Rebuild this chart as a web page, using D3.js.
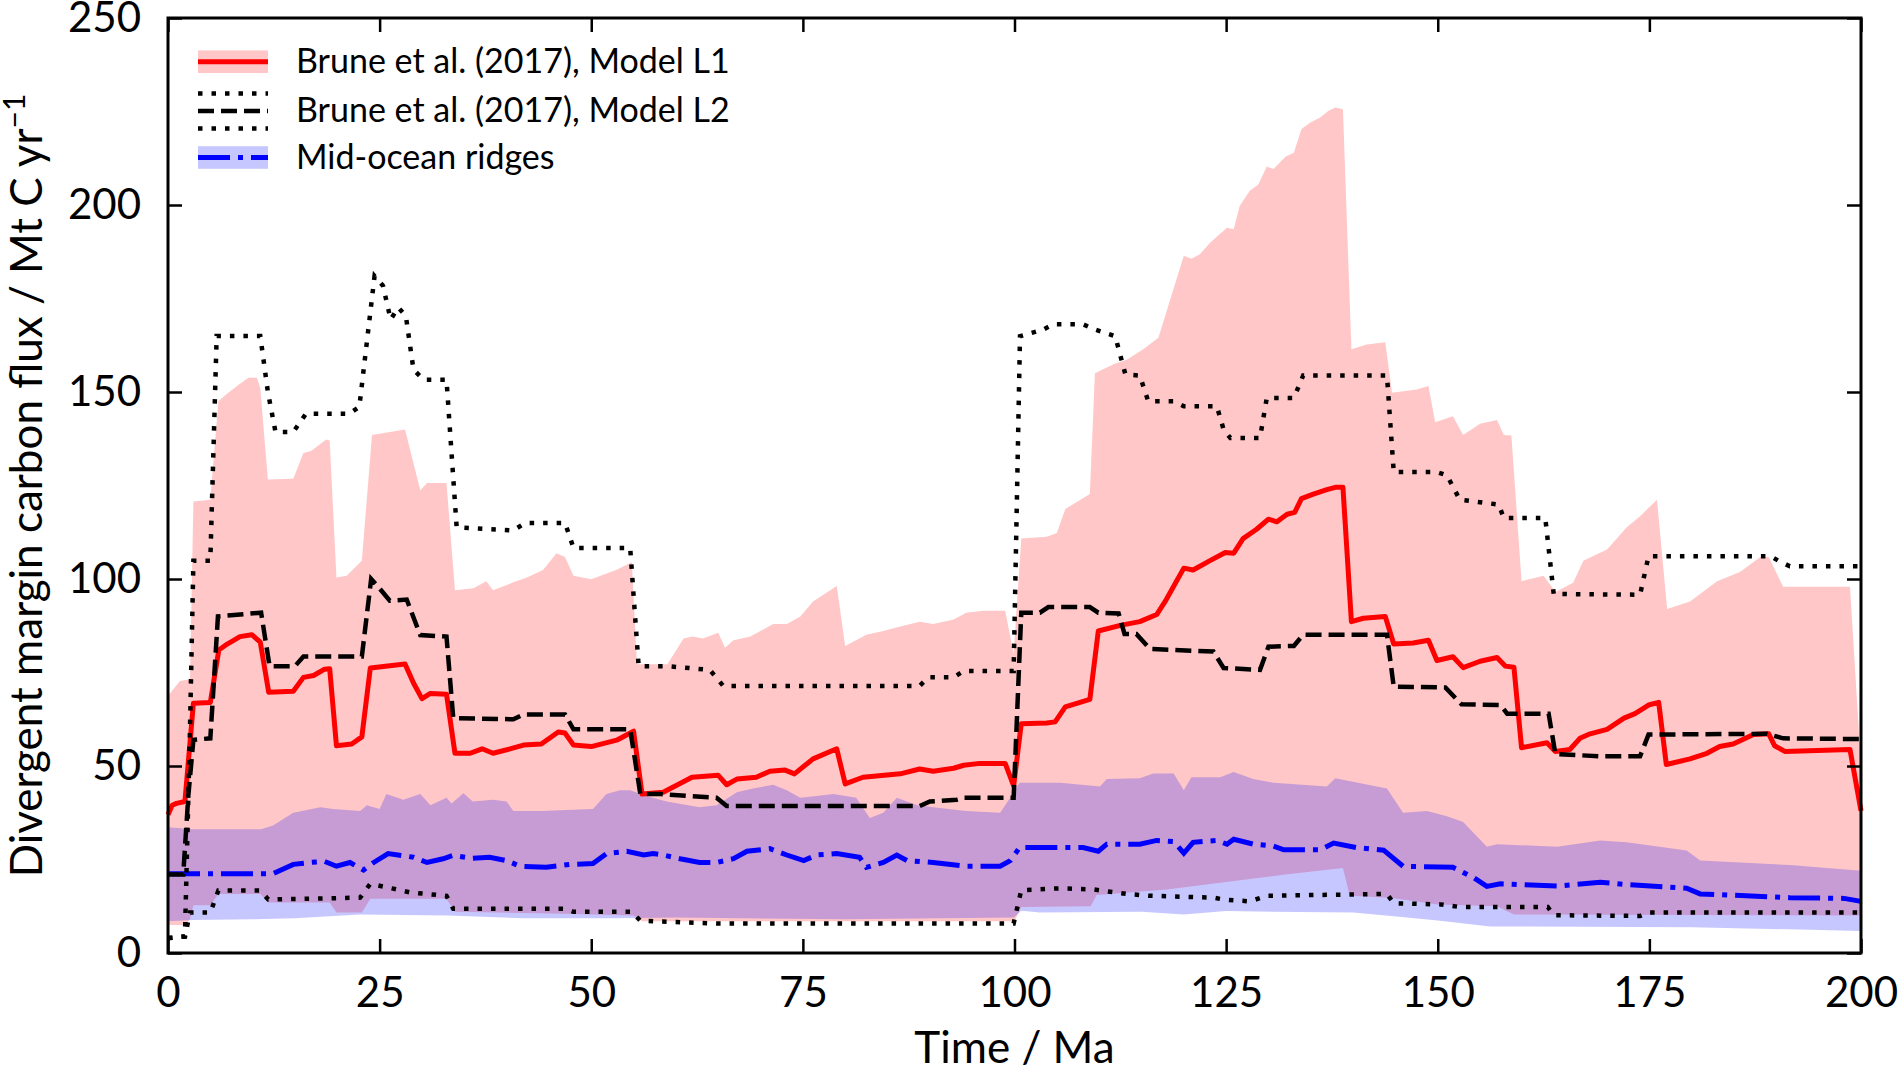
<!DOCTYPE html>
<html>
<head>
<meta charset="utf-8">
<script src="https://cdn.jsdelivr.net/npm/d3@7"></script>
<style>
  body { margin: 0; background: #fff; }
  text { font-family: Lato, "Open Sans", sans-serif; fill: #000; }
</style>
</head>
<body>
<script>
// [time in Ma, flux in Mt C / yr]
let l1Median = [[0,37],[0.5,39.5],[1,40],[2,40.5],[3,66.8],[5,67],[6,81],[7,82.6],[8.5,84.6],[9.9,85.1],[10.9,83.1],[11.9,69.7],[14.8,70],[16,73.7],[17.2,74.2],[18.5,75.9],[19.1,76],[19.9,55.4],[21.7,55.9],[22.9,57.8],[23.9,76.2],[28,77.3],[29,72.2],[30,68],[31,69.4],[32.9,69.2],[33.9,53.4],[35.7,53.4],[37.1,54.6],[38.4,53.4],[40.4,54.6],[42,55.6],[44.1,55.9],[46.1,59.1],[46.9,58.8],[47.9,55.6],[50,55.2],[53,56.9],[55,59.3],[56,42.5],[58.5,43],[61.9,47],[65,47.5],[66,45],[67.2,46.5],[69.5,47],[71.1,48.6],[72.9,48.9],[74,47.9],[76.2,51.9],[79,54.6],[80,45.2],[82.1,47],[86.5,47.9],[88.8,49.2],[90.4,48.6],[92.8,49.4],[94,50.2],[95.9,50.7],[98.9,50.7],[99.9,44.7],[100.8,61.3],[103.8,61.5],[104.8,61.8],[106,65.8],[108.9,67.8],[109.9,86.1],[112.5,87.6],[114.8,88.6],[116.8,90.5],[117.8,94],[120,102.9],[121.1,102.4],[123.1,104.9],[124.9,107.1],[125.9,106.9],[127,110.8],[128.6,113.3],[130,116],[131,115.3],[132.2,117.3],[133.1,117.8],[133.9,121.5],[135.3,122.7],[136.9,123.9],[137.9,124.5],[138.8,124.5],[139.8,88.6],[141.2,89.5],[143.8,90],[144.8,82.6],[147.1,82.9],[148.9,83.6],[149.9,78.2],[151.8,79.2],[153,76.3],[155,78],[157,79],[158,76.7],[159,76.4],[159.9,54.9],[162.9,56.2],[163.9,53.9],[165.6,54.4],[166.8,57.4],[168,58.6],[170,59.8],[172,62.8],[173.3,64],[174.9,66.3],[176.1,67],[177,50.4],[179.8,51.9],[181.8,53.4],[183.3,55.2],[184.9,55.9],[187.3,58.4],[189.1,58.6],[189.8,55.4],[191,53.9],[198.7,54.4],[200,38]];

let l1Upper = [[0,68.7],[1.4,72.7],[2.6,73.2],[3,120.7],[5,121.2],[5.95,147.5],[6.9,149.4],[8.3,151.9],[9.5,153.8],[10.5,153.8],[10.9,151.1],[11.8,126.6],[14.8,126.8],[16,133.7],[16.9,134.2],[18.7,137.3],[19.1,137],[19.9,100.4],[21.1,100.9],[22.9,104.9],[24.1,138.5],[28,140],[29.8,123.7],[30.6,125.7],[32.9,125.7],[33.9,97],[36.1,97.5],[37.6,99.4],[38.4,97],[40.8,99.1],[42.4,100.4],[44.3,102.4],[45.9,106.9],[46.9,105.9],[47.9,100.9],[50,99.9],[53,102.5],[54.8,104.5],[55.4,77.2],[59,77.2],[60.9,84.1],[62,84.6],[63.2,84.1],[65,85.6],[65.8,81.6],[66.8,83.6],[68.8,84.6],[71.5,88],[73.1,88],[74.7,90],[76.2,94],[79,98.1],[80,82.1],[82.5,85.1],[84.5,86.1],[86.5,87.3],[88.8,88.6],[90.4,88],[92.8,89.2],[94.3,91],[96.3,91.5],[98.9,91.5],[99.9,80],[100.8,110.8],[103.8,111.3],[105,112.3],[106,118.7],[108.9,122.7],[109.5,155],[111.7,157.4],[113.3,158.7],[115.2,161.4],[117,164.5],[120,186.4],[120.9,185.6],[121.9,186.8],[123.1,189.9],[125.1,193.9],[125.9,193.5],[126.6,199.7],[127.8,203.8],[128.8,205.5],[129.8,210.3],[130.6,209.6],[132,212.9],[133,214],[133.9,220.3],[134.9,222],[136.1,223.4],[137.1,225.2],[137.9,226.1],[138.8,225.6],[139.8,161.4],[141.6,162.7],[143.8,163.3],[144.6,149.8],[147.5,150.7],[148.9,151.6],[149.7,141.9],[151.8,143.5],[153,138.5],[155,141.5],[157,142.5],[157.8,138.5],[158.7,138.4],[159.9,99.4],[162.5,100.9],[163.9,96.5],[166,99],[167.2,104.9],[170,107.9],[172.3,113.8],[173.9,116.8],[175.9,121.2],[177.1,92],[179.8,94],[183,99.4],[185.7,101.9],[188.1,105.9],[189.1,105.9],[190.8,97.9],[198.7,97.9],[200,50]];

let l1Lower = [[0,7.5],[2,7.5],[2.6,9],[3,12.8],[5,12.8],[5.95,15.8],[10.9,15.8],[11.85,13.5],[19.1,13.5],[19.9,10.8],[22.9,10.8],[23.9,14.5],[32.9,14.5],[33.9,11],[47,10.5],[55,10],[56,8.5],[100,8.5],[100.8,12.3],[109,12.5],[109.7,15.5],[118,17],[125,19],[132,21],[138.8,22.7],[139.6,15.3],[144.4,14.8],[150,13],[157,12.5],[159,10.3],[200,10]];

let l2Max = [[0,4],[2,4.4],[2.6,60],[3,104.9],[5,104.9],[5.75,165],[10.9,165],[11.8,150],[12.7,139.3],[14.8,139.3],[16.3,144.2],[21.4,144.2],[22.6,146],[24.4,181],[25.4,178.4],[26.3,169.4],[27.2,172.6],[28.1,170.3],[29,156],[30.2,153.3],[32.9,153.3],[34.1,113.8],[40.8,113],[42.2,115],[46.9,115],[47.9,108.3],[54.6,108.3],[55.6,76.7],[59,76.7],[64,75.7],[65.6,71.4],[88.8,71.4],[89.8,73.7],[92.8,73.7],[94,75.4],[99.9,75.4],[100.65,164.9],[103.4,166.7],[104.6,168.1],[108.1,168.1],[109.5,166.7],[111.9,164.9],[113.1,154.7],[114.8,154.4],[115.8,147.5],[118.8,147.5],[120,146.2],[123.9,146.2],[124.7,140],[125.5,137.7],[129,137.7],[129.8,148.4],[133,148.4],[134.1,154.4],[144,154.4],[144.8,128.6],[149.9,128.6],[151.1,127.7],[152.6,121.2],[157.2,119.9],[157.8,116.3],[162.7,116.3],[163.7,96],[173.9,95.8],[174.9,106.1],[189.3,106.1],[190.4,104.7],[191.6,103.4],[200,103.4]];

let l2Mid = [[0,21],[1.8,21],[2.4,42],[3,57],[5,57.4],[5.9,90],[11,91],[12,76.7],[15,76.7],[16,79.3],[22.9,79.3],[24,100],[24.8,98],[26.2,94.2],[28.2,94.5],[29.8,85],[32.9,84.6],[33.7,62.8],[40.8,62.5],[42,63.8],[46.9,63.8],[47.9,59.8],[54.6,59.8],[55.8,42.5],[58.1,42.5],[64.8,41.5],[66,39.3],[88.8,39.3],[90,40.5],[93.2,41],[94,41.5],[99.9,41.5],[100.8,91],[103,91],[104,92.5],[108.9,92.5],[109.9,91],[112.3,90.8],[113,85.3],[114.4,85.3],[116,81.3],[123.5,80.6],[124.7,76.2],[129,75.7],[130,81.9],[133,82.1],[134.1,85.1],[144,85.1],[144.8,71.2],[150.9,71],[152.8,66.5],[157.4,66.3],[158.2,64],[163.1,64],[163.9,53.2],[169.2,52.6],[173.9,52.6],[174.9,58.4],[188.9,58.6],[190.8,57.4],[200,57.2]];

let l2Min = [[0,4],[2,4.4],[2.6,10.8],[5,10.8],[5.95,16.7],[10.9,16.7],[11.85,14.3],[22.7,14.8],[23.9,18.5],[26.6,17.2],[28.6,16.2],[32.9,15.3],[33.7,11.8],[46.9,11.8],[47.9,11],[54.8,11],[55.8,8.6],[64.8,7.9],[99.9,7.9],[100.8,16.8],[105.4,17.3],[109.3,17],[113.2,15.8],[116,15.3],[123.5,14.8],[124.7,14.3],[127.8,13.8],[129.8,15.3],[144,15.8],[144.8,13.3],[150.3,13],[152.6,12.3],[163,12.3],[163.7,10.1],[173.9,9.9],[174.9,10.8],[200,10.8]];

let morMedian = [[0,21.2],[5,21.2],[8.1,21.2],[12.4,21.2],[14.8,23.7],[16.8,24.2],[18.5,24.5],[19.9,23.2],[21.5,24.2],[23.1,22.2],[24.3,24.2],[26,26.6],[29,25.6],[30.6,24.2],[32.5,25.2],[33.7,26.1],[36,25.3],[38,25.6],[40,24.7],[41.6,23.2],[44.7,22.9],[47.5,23.7],[50.2,23.9],[51.8,26.6],[54.2,27.2],[56.2,26.2],[57.3,26.6],[58.5,26.2],[60.5,25.2],[62.8,24.2],[64.8,24.2],[66.8,25.2],[68.4,27.2],[71.1,27.9],[73.1,26.2],[75.1,24.7],[76.6,26.2],[79,26.6],[81.7,25.6],[82.5,22.9],[84.5,24.2],[86.1,26.2],[87.3,24.7],[90.4,24.2],[94.3,23.2],[98.3,23.2],[99.5,24.7],[100.6,28.2],[108.1,28.2],[109.9,27.2],[110.9,29.1],[114.8,29.1],[116.8,30.1],[118.8,29.8],[120,26.7],[121.1,29.6],[123.9,30.1],[125.1,29.1],[125.9,30.4],[128.2,29.1],[130.6,28.6],[131.8,27.6],[136.1,27.6],[137.7,29.4],[140.4,28.2],[143.6,27.5],[145.9,23.2],[151.8,22.9],[154.2,20.2],[155.8,17.8],[157.4,18.5],[164.1,17.9],[169.2,18.9],[172.3,18.3],[179.4,17.3],[181,15.8],[191.6,14.8],[198,14.6],[200,13.8]];

let morUpper = [[0,33.6],[3,33.1],[11,33.1],[12.4,34.1],[14.8,37.5],[18,39],[19.5,38.5],[22.7,38],[23.5,39.5],[25,38.5],[25.8,42.5],[27.8,41],[29.8,42.5],[31,39.5],[32.9,41.5],[33.5,40],[34.9,42.7],[36,40.5],[38.4,41],[40,40.5],[40.8,38],[44.3,38],[46.3,38.2],[50.2,38.5],[51.8,42.5],[53.4,43.5],[54.6,43.5],[56.5,42],[58.9,40.5],[62.8,39],[64.8,39.5],[67.2,43],[69.1,44],[71.5,45],[73.1,43.5],[74.7,41.5],[76.6,42],[78.6,42.5],[81.3,41.5],[82.9,36.1],[84.5,37.5],[86.1,41.5],[88.5,39.5],[90.4,39],[94.3,38],[98.3,37.5],[99.5,41.5],[100.6,45.5],[105.4,45.5],[110.1,44.5],[110.9,46.5],[114.8,46.7],[116.4,48],[118.8,48],[120,43.5],[120.9,47],[124.3,47],[125.9,48.4],[128.2,46.5],[130.6,45.5],[136.9,44.5],[137.9,46.7],[144,44],[145.9,37.5],[148.7,38],[151,36.6],[153,35],[155.8,28.4],[157,29.1],[164.1,28.4],[169.2,30.1],[172.3,29.6],[179.4,27.4],[181,24.7],[191.6,23.5],[200,22]];

let morLower = [[0,8.5],[3,8.8],[10,9],[15,9.3],[22.7,10.3],[33,10],[42,9.3],[53,9.3],[60,9.5],[80,9],[99.9,9.5],[100.8,11.3],[103,10.8],[115,11],[120,10.3],[125,11.2],[140,10.8],[144.8,9.8],[150,8.7],[156.2,7.1],[180,6.9],[200,5.9]];

let xTicks = [0, 25, 50, 75, 100, 125, 150, 175, 200];
let yTicks = [0, 50, 100, 150, 200, 250];

let legendLabels = ["Brune et al. (2017), Model L1", "Brune et al. (2017), Model L2", "Mid-ocean ridges"];

function init() {
  let W = 1900, H = 1071;
  let left = 168, right = 1861, top = 18, bottom = 953;

  let dotted = "4.5,9", dashed = "16,7", dashDot = "32,8,5,8";

  let svg = d3.select("body").append("svg")
    .attr("width", W)
    .attr("height", H);

  let x = d3.scaleLinear().domain([0, 200]).range([left, right]);
  let y = d3.scaleLinear().domain([0, 250]).range([bottom, top]);

  let line = d3.line().x(d => x(d[0])).y(d => y(d[1]));

  let band = (up, low) => line(up.concat(low.slice().reverse())) + "Z";

  let plot = svg.append("g");

  plot.append("path")
    .attr("d", band(l1Upper, l1Lower))
    .attr("fill", "rgba(255,0,0,0.22)");

  plot.append("path")
    .attr("d", band(morUpper, morLower))
    .attr("fill", "rgba(0,0,255,0.22)");

  plot.append("path")
    .attr("d", line(morMedian))
    .attr("fill", "none")
    .attr("stroke", "#0000ff")
    .attr("stroke-width", 5)
    .attr("stroke-dasharray", dashDot);

  plot.append("path")
    .attr("d", line(l1Median))
    .attr("fill", "none")
    .attr("stroke", "#ff0000")
    .attr("stroke-width", 5)
    .attr("stroke-linejoin", "round");

  plot.selectAll()
    .data([l2Max, l2Min])
    .enter()
      .append("path")
        .attr("d", d => line(d))
        .attr("fill", "none")
        .attr("stroke", "#000")
        .attr("stroke-width", 4.5)
        .attr("stroke-dasharray", dotted);

  plot.append("path")
    .attr("d", line(l2Mid))
    .attr("fill", "none")
    .attr("stroke", "#000")
    .attr("stroke-width", 4.5)
    .attr("stroke-dasharray", dashed);

  // axes, ticks pointing inward on all four sides
  let tickLen = 14;
  let xb = svg.append("g").attr("transform", `translate(0,${bottom})`)
    .call(d3.axisBottom(x).tickValues(xTicks).tickSizeInner(-tickLen).tickSizeOuter(0).tickPadding(24));
  let xt = svg.append("g").attr("transform", `translate(0,${top})`)
    .call(d3.axisTop(x).tickValues(xTicks).tickSizeInner(-tickLen).tickSizeOuter(0).tickFormat(""));
  let yl = svg.append("g").attr("transform", `translate(${left},0)`)
    .call(d3.axisLeft(y).tickValues(yTicks).tickSizeInner(-tickLen).tickSizeOuter(0).tickPadding(27));
  let yr = svg.append("g").attr("transform", `translate(${right},0)`)
    .call(d3.axisRight(y).tickValues(yTicks).tickSizeInner(-tickLen).tickSizeOuter(0).tickFormat(""));

  [xb, xt, yl, yr].forEach(g => {
    g.select(".domain").remove();
    g.selectAll(".tick line").attr("stroke", "#000").attr("stroke-width", 2.5);
    g.selectAll(".tick text").attr("font-size", 42).attr("font-family", "Lato").attr("fill", "#000");
  });
  xb.selectAll(".tick text").attr("dy", "0.71em");

  svg.append("rect")
    .attr("x", left).attr("y", top)
    .attr("width", right - left).attr("height", bottom - top)
    .attr("fill", "none")
    .attr("stroke", "#000")
    .attr("stroke-width", 3);

  svg.append("text")
    .attr("x", (left + right) / 2)
    .attr("y", 1063)
    .attr("text-anchor", "middle")
    .attr("font-size", 44)
    .text("Time / Ma");

  let ylab = svg.append("text")
    .attr("transform", `translate(42,${(top + bottom) / 2}) rotate(-90)`)
    .attr("text-anchor", "middle")
    .attr("font-size", 44);
  ylab.append("tspan").text("Divergent margin carbon flux / Mt C yr");
  ylab.append("tspan").attr("font-size", 30).attr("dy", -17).text("\u22121");

  // legend
  let lx0 = 198, lx1 = 268, rows = [61.7, 111, 157.5];
  let leg = svg.append("g");

  leg.append("rect").attr("x", lx0).attr("y", rows[0] - 11.3).attr("width", lx1 - lx0).attr("height", 22.6)
    .attr("fill", "rgba(255,0,0,0.22)");
  leg.append("line").attr("x1", lx0).attr("x2", lx1).attr("y1", rows[0]).attr("y2", rows[0])
    .attr("stroke", "#ff0000").attr("stroke-width", 5);

  leg.selectAll()
    .data([rows[1] - 17.5, rows[1] + 17.5])
    .enter()
      .append("line")
        .attr("x1", lx0).attr("x2", lx1)
        .attr("y1", d => d).attr("y2", d => d)
        .attr("stroke", "#000").attr("stroke-width", 4.5)
        .attr("stroke-dasharray", dotted);
  leg.append("line").attr("x1", lx0).attr("x2", lx1).attr("y1", rows[1]).attr("y2", rows[1])
    .attr("stroke", "#000").attr("stroke-width", 4.5).attr("stroke-dasharray", dashed);

  leg.append("rect").attr("x", lx0).attr("y", rows[2] - 11.3).attr("width", lx1 - lx0).attr("height", 22.6)
    .attr("fill", "rgba(0,0,255,0.22)");
  leg.append("line").attr("x1", lx0).attr("x2", lx1).attr("y1", rows[2]).attr("y2", rows[2])
    .attr("stroke", "#0000ff").attr("stroke-width", 5).attr("stroke-dasharray", dashDot);

  leg.selectAll()
    .data(legendLabels)
    .enter()
      .append("text")
        .attr("x", 296)
        .attr("y", (d, i) => rows[i] + 11)
        .attr("font-size", 34)
        .text(d => d);
}

init();
</script>
</body>
</html>
